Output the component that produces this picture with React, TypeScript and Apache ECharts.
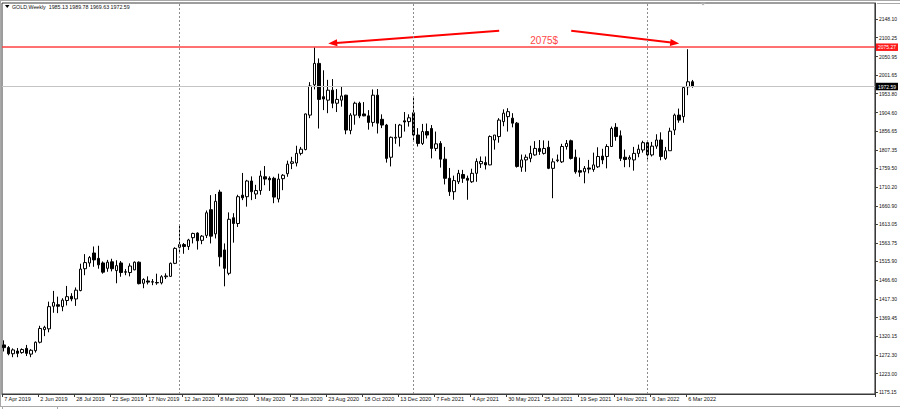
import React, { useEffect, useRef } from 'react';
import * as echarts from 'echarts';

// Weekly GOLD candles: [open, high, low, close]; first week = 7 Apr 2019
const candles2019: number[][] = [
  [1298, 1310, 1281, 1291], [1291, 1295, 1271, 1275], [1275, 1289, 1266, 1285], [1282, 1290, 1266, 1276],
  [1278, 1289, 1275, 1286], [1289, 1298, 1269, 1276], [1274, 1287, 1266, 1284], [1283, 1307, 1278, 1305],
  [1305, 1348, 1302, 1341], [1338, 1348, 1321, 1344], [1340, 1411, 1331, 1398], [1399, 1439, 1382, 1409],
  [1403, 1424, 1381, 1399], [1398, 1420, 1386, 1415], [1414, 1452, 1401, 1424], [1425, 1433, 1412, 1418],
  [1418, 1448, 1400, 1441], [1440, 1510, 1438, 1496], [1497, 1535, 1480, 1513], [1512, 1530, 1502, 1526],
  [1538, 1555, 1502, 1520], [1524, 1557, 1497, 1507], [1512, 1516, 1484, 1488], [1498, 1520, 1489, 1514],
  [1515, 1523, 1490, 1497], [1492, 1519, 1459, 1505], [1512, 1517, 1476, 1487], [1489, 1496, 1480, 1488],
  [1487, 1511, 1477, 1504], [1494, 1516, 1493, 1514], [1514, 1516, 1456, 1458], [1459, 1472, 1446, 1469],
  [1465, 1477, 1456, 1462], [1463, 1470, 1454, 1462], [1461, 1484, 1455, 1460], [1460, 1480, 1456, 1476],
  [1476, 1485, 1470, 1478], [1477, 1513, 1476, 1511], [1511, 1553, 1509, 1550],
];
const candles2020: number[][] = [
  [1553, 1611, 1537, 1560], [1560, 1564, 1536, 1555], [1555, 1575, 1546, 1572], [1578, 1591, 1563, 1589],
  [1590, 1592, 1547, 1570], [1571, 1585, 1561, 1582], [1584, 1649, 1577, 1643], [1651, 1689, 1563, 1582],
  [1588, 1692, 1576, 1673], [1697, 1703, 1503, 1528], [1546, 1563, 1451, 1498], [1485, 1644, 1480, 1626],
  [1630, 1642, 1565, 1615], [1615, 1690, 1606, 1685], [1689, 1747, 1676, 1682], [1685, 1729, 1659, 1726],
  [1726, 1738, 1676, 1698], [1692, 1716, 1679, 1701], [1701, 1753, 1690, 1739], [1737, 1765, 1715, 1731],
  [1733, 1738, 1700, 1729], [1733, 1737, 1668, 1684], [1679, 1745, 1670, 1731], [1732, 1744, 1702, 1741],
  [1745, 1779, 1737, 1770], [1772, 1789, 1757, 1776], [1773, 1818, 1764, 1798], [1798, 1815, 1793, 1809],
  [1808, 1902, 1806, 1901], [1898, 1984, 1890, 1974], [1977, 2075, 1965, 2033], [2033, 2046, 1863, 1939],
  [1946, 2015, 1911, 1940], [1937, 1990, 1903, 1963], [1963, 1992, 1916, 1929], [1929, 1966, 1906, 1939],
  [1937, 1973, 1920, 1948], [1950, 1951, 1848, 1859], [1858, 1903, 1848, 1898], [1898, 1933, 1873, 1929],
  [1929, 1933, 1890, 1896], [1901, 1932, 1895, 1896], [1896, 1911, 1860, 1879], [1879, 1965, 1868, 1950],
  [1950, 1966, 1850, 1877], [1887, 1900, 1864, 1872], [1872, 1875, 1774, 1785], [1788, 1842, 1764, 1840],
  [1838, 1875, 1823, 1840], [1840, 1875, 1816, 1872], [1883, 1906, 1855, 1880], [1881, 1900, 1868, 1891],
];
const candles2021: number[][] = [
  [1904, 1945, 1832, 1846], [1846, 1864, 1816, 1824], [1824, 1875, 1820, 1855], [1855, 1876, 1837, 1846],
  [1863, 1872, 1785, 1811], [1811, 1855, 1804, 1823], [1824, 1830, 1761, 1783], [1783, 1815, 1717, 1733],
  [1733, 1760, 1687, 1698], [1698, 1740, 1677, 1727], [1724, 1755, 1718, 1746], [1743, 1755, 1721, 1733],
  [1733, 1740, 1677, 1728], [1724, 1758, 1721, 1746], [1746, 1785, 1724, 1777], [1771, 1790, 1760, 1777],
  [1774, 1790, 1756, 1768], [1768, 1845, 1767, 1842], [1833, 1846, 1808, 1846], [1842, 1890, 1826, 1885],
  [1881, 1913, 1869, 1903], [1894, 1916, 1855, 1907], [1890, 1903, 1866, 1877], [1877, 1880, 1761, 1764],
  [1762, 1795, 1750, 1781], [1781, 1795, 1750, 1788], [1785, 1818, 1775, 1798], [1794, 1830, 1792, 1811],
  [1811, 1833, 1794, 1803], [1798, 1832, 1795, 1811], [1814, 1831, 1757, 1759], [1759, 1785, 1681, 1776],
  [1779, 1795, 1775, 1781], [1776, 1823, 1773, 1816], [1816, 1833, 1808, 1824], [1831, 1834, 1782, 1785],
  [1788, 1808, 1745, 1750], [1753, 1787, 1737, 1749], [1750, 1765, 1720, 1759], [1760, 1781, 1746, 1757],
  [1756, 1800, 1750, 1768], [1763, 1814, 1760, 1790], [1791, 1810, 1770, 1781], [1790, 1822, 1759, 1816],
  [1816, 1868, 1815, 1863], [1866, 1877, 1831, 1842], [1844, 1858, 1778, 1785], [1788, 1808, 1762, 1782],
  [1783, 1793, 1762, 1787], [1781, 1815, 1753, 1798], [1798, 1821, 1788, 1809], [1807, 1831, 1800, 1826],
];
const candles2022: number[][] = [
  [1826, 1829, 1782, 1794], [1794, 1828, 1790, 1817], [1817, 1848, 1810, 1833], [1833, 1853, 1780, 1790],
  [1785, 1815, 1781, 1805], [1805, 1865, 1805, 1856], [1859, 1902, 1846, 1898], [1898, 1915, 1878, 1885],
  [1894, 1974, 1878, 1970], [1972, 2070, 1950, 1985], [1985.13, 1989.78, 1969.63, 1972.59],
];

const TOTAL_SLOTS = 194; // visible weekly slots incl. empty space on the right
const TICK_EVERY = 8;
const dateTickLabels = [
  '7 Apr 2019', '2 Jun 2019', '28 Jul 2019', '22 Sep 2019', '17 Nov 2019', '12 Jan 2020', '8 Mar 2020',
  '3 May 2020', '28 Jun 2020', '23 Aug 2020', '18 Oct 2020', '13 Dec 2020', '7 Feb 2021', '4 Apr 2021',
  '30 May 2021', '25 Jul 2021', '19 Sep 2021', '14 Nov 2021', '9 Jan 2022', '6 Mar 2022',
];
const priceTicks = [
  2148.1, 2100.25, 2050.95, 2001.65, 1953.8, 1904.6, 1856.65, 1807.35, 1759.5, 1710.2, 1660.9,
  1613.05, 1563.75, 1515.9, 1466.6, 1417.3, 1369.45, 1320.15, 1272.3, 1223.0, 1175.15,
];
const yearSeparators = [39, 91, 143];
const resistanceLevel = 2075.27;
const lastPrice = 1972.59;
const annotationText = '2075$';
// arrows: [tail index, tail price, tip index, tip price]
const arrows = [
  [110, 2118, 72, 2085],
  [126, 2118, 150, 2085],
];
const annotationAnchor = [120, 2092];
const headerText = 'GOLD,Weekly  1985.13 1989.78 1969.63 1972.59';

const FONT = '"Liberation Sans", Arial, sans-serif';

export default function App() {
  const ref = useRef<HTMLDivElement>(null);
  useEffect(() => {
    document.body.style.margin = '0';
    const chart = echarts.init(ref.current as HTMLDivElement, null, { renderer: 'svg' });
    const all = [...candles2019, ...candles2020, ...candles2021, ...candles2022];
    const categories = Array.from({ length: TOTAL_SLOTS }, (_, i) => String(i));
    const data = all.map(([o, h, l, c]) => [o, c, l, h]);
    const showTick = (i: number) => i % TICK_EVERY === 0 && i / TICK_EVERY < dateTickLabels.length;
    const axisColor = '#3a3a3a';

    chart.setOption({
      animation: false,
      backgroundColor: '#ffffff',
      grid: {
        left: 2, right: 23, top: 3, bottom: 15, show: true,
        borderColor: axisColor, borderWidth: 1, backgroundColor: 'transparent',
      },
      xAxis: {
        type: 'category',
        data: categories,
        boundaryGap: true,
        axisLine: { show: true, lineStyle: { color: axisColor, width: 1 } },
        axisTick: { show: true, length: 3, interval: (i: number) => showTick(i), lineStyle: { color: axisColor } },
        axisLabel: {
          show: true,
          interval: (i: number) => showTick(i),
          formatter: (_v: string, i: number) => dateTickLabels[i / TICK_EVERY] ?? '',
          align: 'left',
          fontSize: 5.5,
          color: '#111',
          margin: 2,
          fontFamily: FONT,
        },
        splitLine: { show: false },
      },
      yAxis: {
        type: 'value',
        position: 'right',
        min: 1169.9,
        max: 2190.65,
        axisLine: { show: true, lineStyle: { color: axisColor, width: 1 } },
        axisTick: { show: true, length: 3, customValues: priceTicks, lineStyle: { color: axisColor } },
        axisLabel: {
          show: true,
          customValues: priceTicks,
          formatter: (v: number) => v.toFixed(2),
          fontSize: 5,
          color: '#111',
          margin: 4,
          fontFamily: FONT,
        },
        splitLine: { show: false },
      },
      series: [
        {
          type: 'candlestick',
          data,
          barWidth: 3,
          itemStyle: {
            color: '#ffffff', color0: '#000000',
            borderColor: '#000000', borderColor0: '#000000', borderWidth: 1,
          },
          markLine: {
            silent: true,
            symbol: ['none', 'none'],
            animation: false,
            data: [
              ...yearSeparators.map((x) => ({
                xAxis: x,
                lineStyle: { color: '#8c8c8c', width: 1, type: [2, 2] },
                label: { show: false },
              })),
              {
                yAxis: lastPrice,
                lineStyle: { color: '#c4c4c4', width: 1, type: 'solid' },
                label: {
                  show: true, position: 'end', formatter: lastPrice.toFixed(2), distance: 1,
                  backgroundColor: '#000', color: '#fff', fontSize: 5, padding: [1.5, 2, 1, 2], fontFamily: FONT,
                },
              },
              {
                yAxis: resistanceLevel,
                lineStyle: { color: '#ff4040', width: 1.6, type: 'solid' },
                label: {
                  show: true, position: 'end', formatter: resistanceLevel.toFixed(2), distance: 1,
                  backgroundColor: '#ff1a1a', color: '#fff', fontSize: 5, padding: [1.5, 2, 1, 2], fontFamily: FONT,
                },
              },
            ],
          },
        },
      ],
    });

    const toPx = (i: number, p: number) => chart.convertToPixel({ gridIndex: 0 }, [i, p]) as number[];
    const arrowEls: any[] = [];
    arrows.forEach(([ti, tp, hi, hp]) => {
      const tail = toPx(ti, tp);
      const tip = toPx(hi, hp);
      const dx = tip[0] - tail[0];
      const dy = tip[1] - tail[1];
      const len = Math.hypot(dx, dy);
      const ux = dx / len, uy = dy / len;
      const headLen = 9, halfW = 3.5;
      const bx = tip[0] - ux * headLen, by = tip[1] - uy * headLen;
      arrowEls.push({
        type: 'line', silent: true,
        shape: { x1: tail[0], y1: tail[1], x2: bx + ux * 1, y2: by + uy * 1 },
        style: { stroke: '#ff0000', lineWidth: 2 },
      });
      arrowEls.push({
        type: 'polygon', silent: true,
        shape: { points: [[tip[0], tip[1]], [bx - uy * halfW, by + ux * halfW], [bx + uy * halfW, by - ux * halfW]] },
        style: { fill: '#ff0000' },
      });
    });
    const anchor = toPx(annotationAnchor[0], annotationAnchor[1]);

    chart.setOption({
      graphic: [
        { type: 'line', silent: true, shape: { x1: 0, y1: 0.5, x2: 900, y2: 0.5 }, style: { stroke: '#a8a8a8', lineWidth: 1 } },
        { type: 'line', silent: true, shape: { x1: 0.5, y1: 0, x2: 0.5, y2: 406 }, style: { stroke: '#a8a8a8', lineWidth: 1 } },
        { type: 'line', silent: true, shape: { x1: 0, y1: 406.5, x2: 900, y2: 406.5 }, style: { stroke: '#a8a8a8', lineWidth: 1 } },
        { type: 'rect', silent: true, shape: { x: 2.5, y: 406.5, width: 55, height: 4 }, style: { fill: '#fff', stroke: '#a8a8a8', lineWidth: 1 } },
        { type: 'line', silent: true, shape: { x1: 877, y1: 3.5, x2: 900, y2: 3.5 }, style: { stroke: '#a8a8a8', lineWidth: 1 } },
        { type: 'polygon', silent: true, shape: { points: [[700, 2.5], [706, 2.5], [703, 5.5]] }, style: { fill: '#b0b0b0' } },
        { type: 'polygon', silent: true, shape: { points: [[5, 5], [9.5, 5], [7.25, 8]] }, style: { fill: '#000' } },
        {
          type: 'text', silent: true, x: 12, y: 6.8,
          style: { text: headerText, fill: '#111', fontSize: 5.3, fontFamily: FONT, verticalAlign: 'middle', align: 'left' },
        },
        ...arrowEls,
        {
          type: 'text', silent: true, x: anchor[0], y: anchor[1],
          style: { text: annotationText, fill: '#ff4848', fontSize: 10, fontFamily: FONT, align: 'center', verticalAlign: 'middle' },
        },
      ],
    });

    return () => chart.dispose();
  }, []);

  return <div ref={ref} style={{ width: 900, height: 409, position: 'absolute', left: 0, top: 0 }} />;
}
